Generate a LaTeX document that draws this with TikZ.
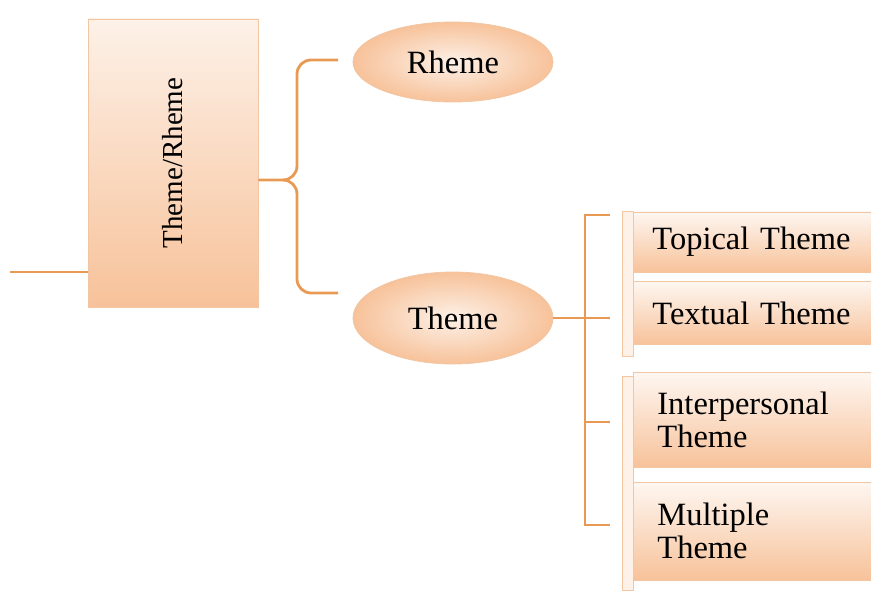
\documentclass[tikz,border=0pt]{standalone}
\usepackage{fontspec}
\setmainfont{Liberation Serif}
\usepackage{tikz}
\usetikzlibrary{arrows.meta,positioning,shapes.geometric}

\definecolor{peach}{HTML}{F7C29A}
\definecolor{paleorange}{HTML}{FDF1E8}
\definecolor{linkorange}{HTML}{E89A55}
\definecolor{edgeorange}{HTML}{F2C6A2}

\begin{document}
\begin{tikzpicture}[x=1pt, y=-1pt,
		link/.style={draw=linkorange, line width=2.8pt},
		bigbox/.style={rectangle, draw=edgeorange, line width=0.8pt, top color=paleorange, bottom color=peach, minimum width=170pt, minimum height=288pt},
		oval/.style={ellipse, draw=edgeorange, line width=0.8pt, inner color=paleorange, outer color=peach, minimum width=200pt},
		leaf/.style={rectangle, draw=edgeorange, line width=0.8pt, top color=paleorange!60!white, bottom color=peach, minimum width=250pt, anchor=west, align=left, text width=218pt, inner sep=0pt},
		strip/.style={rectangle, draw=edgeorange, line width=0.8pt, fill=paleorange, minimum width=11pt, inner sep=0pt},
		font=\fontsize{32.5}{33}\selectfont]
	\useasboundingbox (0,0) rectangle (871,591);
	% left column
	\coordinate (in) at (10,272);
	\node[bigbox] (tr) at (173,163) {};
	\node[rotate=90, font=\fontsize{29}{30}\selectfont] (trlabel) at (tr.center) {Theme/Rheme};
	\draw[link] (in) -- (in -| tr.west);
	% brace to Rheme and Theme
	\node[oval, minimum height=80pt] (rheme) at (453,62) {Rheme};
	\node[oval, minimum height=92pt] (theme) at (453,318) {Theme};
	\coordinate (rb) at (338,60);
	\coordinate (tb) at (338,293);
	\draw[link, rounded corners=14pt] (rb) -| (297,180) -- (tr.east |- 0,180);
	\draw[link, rounded corners=14pt] (tb) -| (297,180) -- (287,180);
	% kinds of Theme
	\node[strip, minimum height=145pt] (s1) at (627.5,284) {};
	\node[strip, minimum height=214pt] (s2) at (627.5,483) {};
	\node[leaf, minimum height=60pt] (topical) at (633,242) {\hspace{3pt}Topical Theme};
	\node[leaf, minimum height=63pt] (textual) at (633,313) {\hspace{3pt}Textual Theme};
	\node[leaf, minimum height=95pt] (inter) at (633,420) {\hspace{8pt}Interpersonal\\\hspace{8pt}Theme};
	\node[leaf, minimum height=98pt] (multi) at (633,531) {\hspace{8pt}Multiple\\\hspace{8pt}Theme};
	\coordinate (k1) at (610,215);
	\coordinate (k2) at (610,318);
	\coordinate (k3) at (610,422);
	\coordinate (k4) at (610,525);
	\draw[link] (k1) -- (585,215) -- (585,525) -- (k4);
	\draw[link] (theme.east) -- (theme.east -| k2) -- (k2);
	\draw[link] (585,422) -- (k3);
\end{tikzpicture}
\end{document}
